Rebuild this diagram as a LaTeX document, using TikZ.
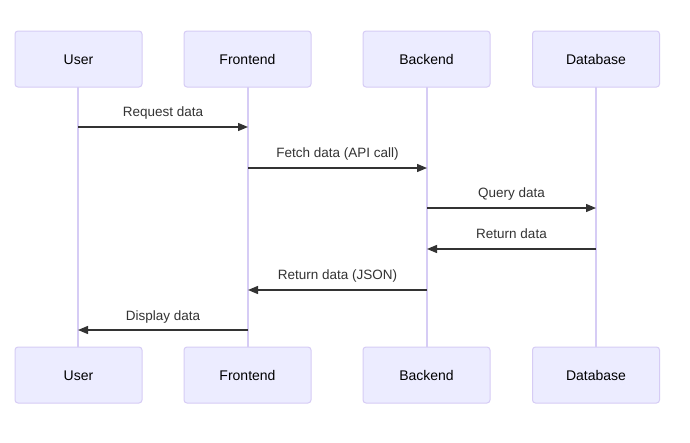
\documentclass[tikz,border=0pt]{standalone}
\usepackage{fontspec}
\setmainfont{Liberation Sans}
\usetikzlibrary{arrows.meta}
\definecolor{boxfill}{HTML}{ECECFF}
\definecolor{boxline}{HTML}{D6CCF5}
\definecolor{lifeline}{HTML}{D6CCF5}
\definecolor{msg}{HTML}{333333}
\tikzset{
  actor/.style={draw=boxline, fill=boxfill, line width=1pt, rounded corners=3pt,
    minimum width=127pt, minimum height=56pt, inner sep=0pt, text height=10pt, text depth=0pt,
    font=\fontsize{14}{16}\selectfont, text=black},
  lifelinestyle/.style={draw=lifeline, line width=1.5pt},
  message/.style={draw=msg, line width=1.3pt, -{Triangle[length=10pt,width=8pt]}},
  msglabel/.style={font=\fontsize{13.5}{15}\selectfont, text=msg, inner sep=0pt, anchor=base}
}
\begin{document}
\begin{tikzpicture}[x=1pt,y=-1pt]
\useasboundingbox (0,0) rectangle (690,442);
\fill[white] (0,0) rectangle (690,442);
% lifelines
\foreach \x/\n in {78/u,248/f,427/b,596/d}{
  \coordinate (\n top) at (\x,87);
  \coordinate (\n bot) at (\x,347);
  \draw[lifelinestyle] (\n top) -- (\n bot);
}
% actors
\node[actor] (u1) at (78.5,59) {User};
\node[actor] (f1) at (247.5,59) {Frontend};
\node[actor] (b1) at (426.5,59) {Backend};
\node[actor] (d1) at (596,59) {Database};
\node[actor] (u2) at (78.5,375) {User};
\node[actor] (f2) at (247.5,375) {Frontend};
\node[actor] (b2) at (426.5,375) {Backend};
\node[actor] (d2) at (596,375) {Database};
% message anchor points
\coordinate (u127) at (78,127); \coordinate (f127) at (248,127);
\coordinate (f168) at (248,168); \coordinate (b168) at (427,168);
\coordinate (b208) at (427,208); \coordinate (d208) at (596,208);
\coordinate (d249) at (596,249); \coordinate (b249) at (427,249);
\coordinate (b290) at (427,290); \coordinate (f290) at (248,290);
\coordinate (f330) at (248,330); \coordinate (u330) at (78,330);
% messages
\draw[message] (u127) -- (f127);
\node[msglabel] (l1) at (163,116) {Request data};
\draw[message] (f168) -- (b168);
\node[msglabel] (l2) at (337.5,157) {Fetch data (API call)};
\draw[message] (b208) -- (d208);
\node[msglabel] (l3) at (511.5,197) {Query data};
\draw[message] (d249) -- (b249);
\node[msglabel] (l4) at (511.5,238) {Return data};
\draw[message] (b290) -- (f290);
\node[msglabel] (l5) at (337.5,279) {Return data (JSON)};
\draw[message] (f330) -- (u330);
\node[msglabel] (l6) at (163,320) {Display data};
\end{tikzpicture}
\end{document}
